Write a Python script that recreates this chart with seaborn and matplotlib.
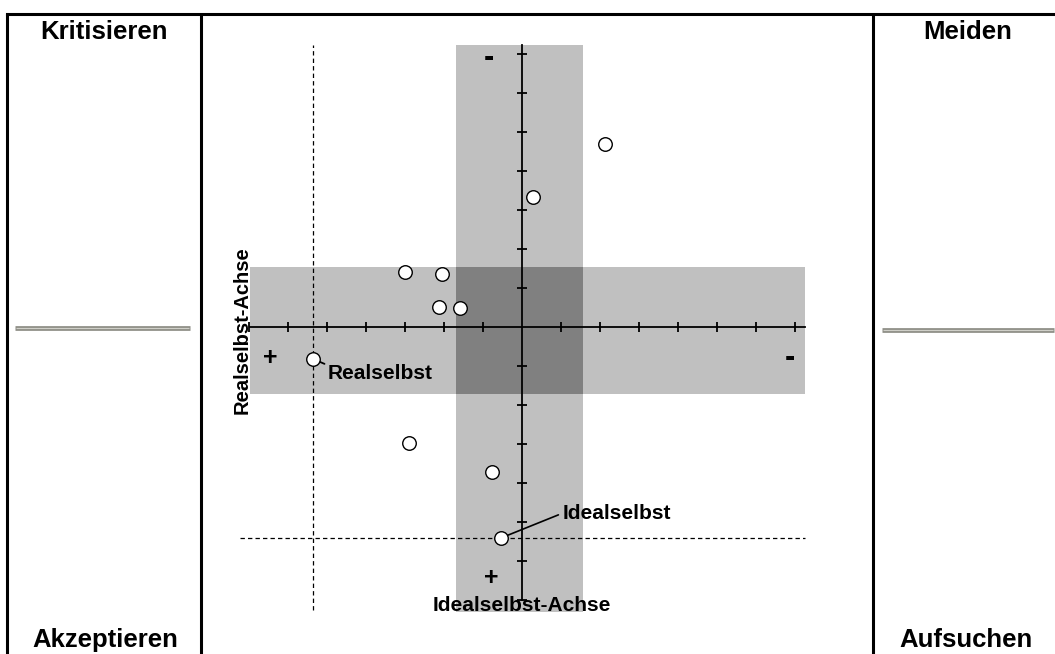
import matplotlib
matplotlib.use("Agg")
import matplotlib.pyplot as plt
import seaborn as sns
import pandas as pd
from matplotlib.patches import Rectangle

sns.set_theme(style="white")
plt.rcParams['font.family'] = ['Liberation Sans', 'DejaVu Sans']

# ---- data (axis units; + is left / bottom) ----
pt_x = [2.13, 0.28, -3.00, -2.05, -2.13, -1.59, -5.36, -2.90, -0.77, -0.54]
pt_y = [4.69, 3.33, 1.41, 1.36, 0.51, 0.49, -0.82, -2.97, -3.72, -5.41]
real_self = (-5.36, -0.82)
ideal_self = (-0.54, -5.41)
ticks = [-7, -6, -5, -4, -3, -2, -1, 1, 2, 3, 4, 5, 6, 7]
band_v_x = [-1.69, 1.56]
band_v_y = [-7.31, 7.23]
band_h_x = [-6.97, 7.26]
band_h_y = [-1.72, 1.54]
corner_labels = ["Kritisieren", "Meiden", "Akzeptieren", "Aufsuchen"]

W, H = 1055, 654
fig = plt.figure(figsize=(W / 100, H / 100), dpi=100)

# background frame axes (pixel coords)
bg = fig.add_axes([0, 0, 1, 1])
bg.set_xlim(0, W)
bg.set_ylim(H, 0)
bg.axis('off')
lw_frame = 2.2
bg.plot([7, W], [14, 14], color='black', lw=lw_frame, solid_capstyle='projecting')
bg.plot([7, 7], [14, H], color='black', lw=lw_frame)
bg.plot([201, 201], [14, H], color='black', lw=lw_frame)
bg.plot([873, 873], [14, H], color='black', lw=lw_frame)
for x0, x1, yy in [(15, 190, 328), (882, 1054, 330)]:
    bg.plot([x0, x1], [yy, yy], color='#8c8c84', lw=3.4, solid_capstyle='butt')
    bg.plot([x0 + 1, x1 - 1], [yy - 0.3, yy - 0.3], color='#cfcfc8', lw=0.9, solid_capstyle='butt')
hdr = dict(fontsize=18.5, fontweight='bold', ha='center', color='black')
bg.text(104, 39, corner_labels[0], va='baseline', **hdr)
bg.text(968, 39, corner_labels[1], va='baseline', **hdr)
bg.text(105, 647, corner_labels[2], va='baseline', **hdr)
bg.text(966, 647, corner_labels[3], va='baseline', **hdr)

# central chart axes in data units
cx, cy, u = 522, 327, 39.0
ax = fig.add_axes([201 / W, 0, (873 - 201) / W, (H - 14) / H])
ax.set_facecolor('none')
ax.set_xlim((201 - cx) / u, (873 - cx) / u)
ax.set_ylim((cy - H) / u, (cy - 14) / u)

grey, dark = '#c0c0c0', '#808080'
ax.add_patch(Rectangle((band_v_x[0], band_v_y[0]), band_v_x[1] - band_v_x[0],
                       band_v_y[1] - band_v_y[0], color=grey, lw=0, zorder=0))
ax.add_patch(Rectangle((band_h_x[0], band_h_y[0]), band_h_x[1] - band_h_x[0],
                       band_h_y[1] - band_h_y[0], color=grey, lw=0, zorder=0))
ax.add_patch(Rectangle((band_v_x[0], band_h_y[0]), band_v_x[1] - band_v_x[0],
                       band_h_y[1] - band_h_y[0], color=dark, lw=0, zorder=0.5))

# dashed reference lines
ax.plot([real_self[0], real_self[0]], [-7.26, 7.23], color='black', lw=0.9,
        ls=(0, (3.5, 2.5)), zorder=2)
ax.plot([-7.23, 7.26], [ideal_self[1], ideal_self[1]], color='black', lw=0.9,
        ls=(0, (3.5, 2.5)), zorder=2)

# axes as spines through origin
for s in ['top', 'right']:
    ax.spines[s].set_visible(False)
ax.spines['left'].set_position(('data', 0))
ax.spines['bottom'].set_position(('data', 0))
ax.spines['left'].set_bounds(-7.0, 7.23)
ax.spines['bottom'].set_bounds(-6.97, 7.26)
for s in ['left', 'bottom']:
    ax.spines[s].set_color('black')
    ax.spines[s].set_linewidth(1.3)
    ax.spines[s].set_zorder(3)
ax.set_xticks(ticks)
ax.set_yticks(ticks)
ax.set_xticklabels([])
ax.set_yticklabels([])
ax.tick_params(axis='both', direction='inout', length=7, width=1.3, color='black',
               bottom=True, left=True)

df = pd.DataFrame({'x': pt_x, 'y': pt_y})
sns.scatterplot(data=df, x='x', y='y', ax=ax, color='white', edgecolor='black',
                s=95, linewidth=1.0, zorder=5, legend=False)
ax.set_xlabel('')
ax.set_ylabel('')

lab = dict(fontsize=15, fontweight='bold', color='black')
ax.annotate('Realselbst', xy=real_self, xytext=(-4.98, -1.2), ha='left', va='center',
            arrowprops=dict(arrowstyle='-', lw=1.3, color='black', relpos=(0, 0.95),
                            shrinkA=0, shrinkB=0), zorder=4, **lab)
ax.annotate('Idealselbst', xy=ideal_self, xytext=(1.05, -4.77), ha='left', va='center',
            arrowprops=dict(arrowstyle='-', lw=1.2, color='black', relpos=(0, 0.5),
                            shrinkA=1, shrinkB=0), zorder=4, **lab)

ax.text(-7.18, -0.08, 'Realselbst-Achse', rotation=90, ha='center', va='center',
        fontsize=14.5, fontweight='bold', color='black', zorder=6)
ax.text(0.0, -7.15, 'Idealselbst-Achse', ha='center', va='center',
        fontsize=15, fontweight='bold', color='black', zorder=6)

sign = dict(fontweight='bold', ha='center', va='center', color='black', zorder=6)
ax.text(-6.46, -0.79, '+', fontsize=18, **sign)
ax.text(6.87, -0.79, '-', fontsize=22, **sign)
ax.text(-0.85, 6.9, '-', fontsize=22, **sign)
ax.text(-0.79, -6.44, '+', fontsize=18, **sign)

fig.savefig('out.png', dpi=100)
